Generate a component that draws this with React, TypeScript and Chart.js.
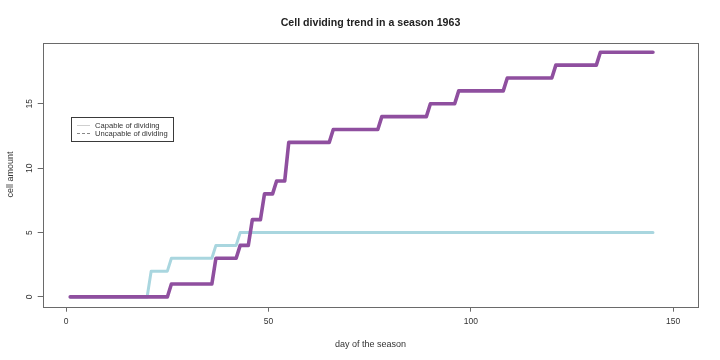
import React, { useEffect, useRef } from "react";
import { Chart, registerables } from "chart.js";

Chart.register(...registerables);

const chartTitle = "Cell dividing trend in a season 1963";
const xAxisTitle = "day of the season";
const yAxisTitle = "cell amount";
const xTicks = [0, 50, 100, 150];
const yTicks = [0, 5, 10, 15];
const legendLabels = ["Capable of dividing", "Uncapable of dividing"];

const capableDays = [1, 20, 21, 25, 26, 36, 37, 42, 43, 145];
const capableCells = [0, 0, 2, 2, 3, 3, 4, 4, 5, 5];

const uncapableDays = [
  1, 25, 26, 36, 37, 42, 43, 45, 46, 48, 49, 51, 52, 54, 55,
  65, 66, 77, 78, 89, 90, 96, 97, 108, 109, 120, 121, 131, 132, 145,
];
const uncapableCells = [
  0, 0, 1, 1, 3, 3, 4, 4, 6, 6, 8, 8, 9, 9, 12,
  12, 13, 13, 14, 14, 15, 15, 16, 16, 17, 17, 18, 18, 19, 19,
];

const FONT = "'Liberation Sans', Arial, sans-serif";
const AXIS_COLOR = "#6a6a6a";
const TEXT_COLOR = "#333333";

const decorPlugin = {
  id: "rDecor",
  afterDraw(chart: any) {
    const ctx = chart.ctx as CanvasRenderingContext2D;
    const area = chart.chartArea;
    const ys = chart.scales.y;
    ctx.save();
    // box
    ctx.strokeStyle = AXIS_COLOR;
    ctx.lineWidth = 1;
    ctx.strokeRect(
      Math.round(area.left) + 0.5,
      Math.round(area.top) + 0.5,
      Math.round(area.right) - Math.round(area.left),
      Math.round(area.bottom) - Math.round(area.top)
    );
    const cx = (area.left + area.right) / 2;
    const cy = (area.top + area.bottom) / 2;
    ctx.fillStyle = "#222";
    // title
    ctx.font = `bold 10.6px ${FONT}`;
    ctx.textAlign = "center";
    ctx.textBaseline = "middle";
    ctx.fillText(chartTitle, cx, 23.5);
    // x title
    ctx.fillStyle = TEXT_COLOR;
    ctx.font = `9px ${FONT}`;
    ctx.fillText(xAxisTitle, cx, 344.5);
    // y tick labels (rotated like R)
    ctx.font = `8.5px ${FONT}`;
    yTicks.forEach((v) => {
      const py = ys.getPixelForValue(v);
      ctx.save();
      ctx.translate(29.5, py);
      ctx.rotate(-Math.PI / 2);
      ctx.fillText(String(v), 0, 0);
      ctx.restore();
    });
    // y title
    ctx.font = `9px ${FONT}`;
    ctx.save();
    ctx.translate(11, cy);
    ctx.rotate(-Math.PI / 2);
    ctx.fillText(yAxisTitle, 0, 0);
    ctx.restore();
    // legend
    ctx.strokeStyle = "#3a3a3a";
    ctx.lineWidth = 1;
    ctx.strokeRect(71.5, 117.5, 102, 24);
    ctx.strokeStyle = "#cfcfcf";
    ctx.beginPath();
    ctx.moveTo(77, 125.5);
    ctx.lineTo(90, 125.5);
    ctx.stroke();
    ctx.strokeStyle = "#888888";
    ctx.setLineDash([3, 2]);
    ctx.beginPath();
    ctx.moveTo(77, 133.5);
    ctx.lineTo(90, 133.5);
    ctx.stroke();
    ctx.setLineDash([]);
    ctx.font = `7.6px ${FONT}`;
    ctx.textAlign = "left";
    ctx.fillStyle = TEXT_COLOR;
    ctx.fillText(legendLabels[0], 95, 125.5);
    ctx.fillText(legendLabels[1], 95, 134);
    ctx.restore();
  },
};

export default function App() {
  const ref = useRef<HTMLCanvasElement | null>(null);
  useEffect(() => {
    document.body.style.margin = "0";
    const canvas = ref.current;
    if (!canvas) return;
    const chart = new Chart(canvas, {
      type: "line",
      data: {
        datasets: [
          {
            label: legendLabels[1],
            data: uncapableDays.map((d, i) => ({ x: d, y: uncapableCells[i] })),
            borderColor: "#8f4f9f",
            borderWidth: 3.6,
            pointRadius: 0,
            tension: 0,
            fill: false,
            borderCapStyle: "round",
            borderJoinStyle: "round",
            order: 0,
          },
          {
            label: legendLabels[0],
            data: capableDays.map((d, i) => ({ x: d, y: capableCells[i] })),
            borderColor: "#a9d6df",
            borderWidth: 3,
            pointRadius: 0,
            tension: 0,
            fill: false,
            borderCapStyle: "round",
            borderJoinStyle: "round",
            order: 1,
          },
        ],
      },
      options: {
        responsive: false,
        animation: false,
        devicePixelRatio: 1,
        layout: { padding: { top: 42.5, right: 21.7, left: 0, bottom: 0 } },
        plugins: {
          legend: { display: false },
          title: { display: false },
          tooltip: { enabled: false },
        },
        scales: {
          x: {
            type: "linear",
            min: -5.8,
            max: 156.2,
            afterBuildTicks: (s: any) => {
              s.ticks = xTicks.map((v) => ({ value: v }));
            },
            afterFit: (s: any) => {
              s.height = 53.3;
            },
            grid: {
              display: true,
              drawOnChartArea: false,
              drawTicks: true,
              tickLength: 5,
              color: AXIS_COLOR,
            },
            border: { display: false },
            ticks: {
              autoSkip: false,
              maxRotation: 0,
              padding: 5,
              color: TEXT_COLOR,
              font: { family: FONT, size: 8.5 },
              callback: (v: any) => String(v),
            },
          },
          y: {
            type: "linear",
            min: -0.76,
            max: 19.76,
            afterBuildTicks: (s: any) => {
              s.ticks = yTicks.map((v) => ({ value: v }));
            },
            afterFit: (s: any) => {
              s.width = 42.7;
            },
            grid: {
              display: true,
              drawOnChartArea: false,
              drawTicks: true,
              tickLength: 5,
              color: AXIS_COLOR,
            },
            border: { display: false },
            ticks: { display: false },
          },
        },
      },
      plugins: [decorPlugin],
    } as any);
    return () => chart.destroy();
  }, []);
  return (
    <div style={{ position: "absolute", left: 0, top: 0, width: 720, height: 360 }}>
      <canvas ref={ref} width={720} height={360} />
    </div>
  );
}
